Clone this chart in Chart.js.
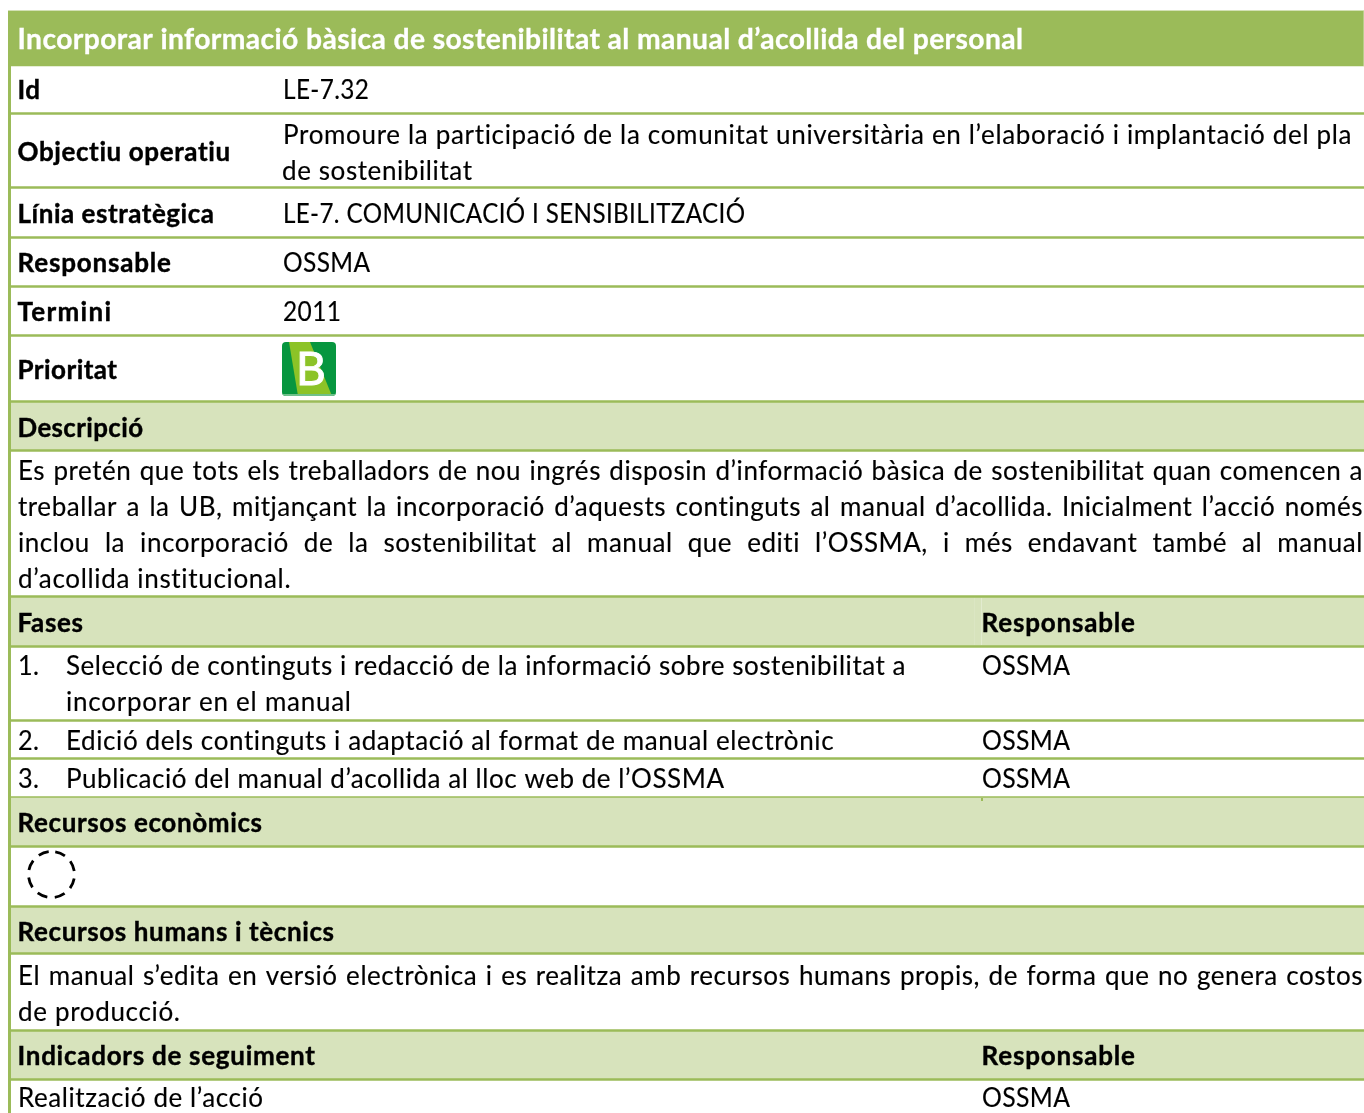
<!DOCTYPE html>
<html>
<head>
<meta charset="utf-8">
<style>
html, body { margin: 0; padding: 0; background: #fff; }
canvas { display: block; }
</style>
<script src="https://cdn.jsdelivr.net/npm/chart.js@4"></script>
</head>
<body>
<canvas id="Fitxa" width="1364" height="1113"></canvas>
<script>
// Row bands of the sheet (top and bottom of each band)
const RowNames = ["Titol", "Id", "Objectiu", "Linia", "Responsable", "Termini", "Prioritat", "Descripcio", "Text", "Fases", "Fase1", "Fase2", "Fase3", "Recursos", "Cercle", "Humans", "TextHumans", "Indicadors", "Accio"]
const RowTops = [11, 66, 115, 189, 239, 288, 337, 403, 452, 598, 648, 722, 760, 798, 848, 908, 955, 1032, 1081]
const RowBottoms = [66, 112, 186, 236, 285, 334, 400, 449, 595, 645, 719, 757, 796, 845, 905, 952, 1029, 1078, 1113]
const RowKinds = ["title", "plain", "plain", "plain", "plain", "plain", "plain", "head", "plain", "head", "plain", "plain", "plain", "head", "plain", "head", "plain", "head", "plain"]

const TitleText = "Incorporar informació bàsica de sostenibilitat al manual d’acollida del personal"
const BoldTexts = ["Id", "Objectiu operatiu", "Línia estratègica", "Responsable", "Termini", "Prioritat", "Descripció", "Fases", "Responsable", "Recursos econòmics", "Recursos humans i tècnics", "Indicadors de seguiment", "Responsable"]
const BoldBaselines = [99, 161, 223, 272, 321, 379, 437, 632, 632, 832, 941, 1065, 1065]
const BoldColumns = [17.5, 17.5, 17.5, 17.5, 17.5, 17.5, 17.5, 17.5, 981.5, 17.5, 17.5, 17.5, 981.5]
const BoldEnds = [40, 231, 214, 171, 111, 117, 143, 83, 1135, 262, 334, 315, 1135]

const PlainTexts = ["LE-7.32", "Promoure la participació de la comunitat universitària en l’elaboració i implantació del pla", "de sostenibilitat", "LE-7. COMUNICACIÓ I SENSIBILITZACIÓ", "OSSMA", "2011", "d’acollida institucional.", "1.", "Selecció de continguts i redacció de la informació sobre sostenibilitat a", "incorporar en el manual", "OSSMA", "2.", "Edició dels continguts i adaptació al format de manual electrònic", "OSSMA", "3.", "Publicació del manual d’acollida al lloc web de l’OSSMA", "OSSMA", "de producció.", "Realització de l’acció", "OSSMA"]
const PlainBaselines = [99, 143.5, 179.5, 222.5, 272, 321, 588, 675, 675, 711, 675, 750, 750, 750, 788, 788, 788, 1021, 1107, 1107]
const PlainColumns = [283, 283, 282, 283, 283, 283, 18, 18, 66, 66, 982, 18, 66, 982, 18, 66, 982, 18, 18, 982]
const PlainEnds = [369, 1352, 472, 745, 370, 341, 291, 39, 906, 351, 1070, 39, 834, 1070, 39, 724, 1070, 180, 263, 1070]

// Lines stretched to the right margin
const JustifiedTexts = ["Es pretén que tots els treballadors de nou ingrés disposin d’informació bàsica de sostenibilitat quan comencen a", "treballar a la UB, mitjançant la incorporació d’aquests continguts al manual d’acollida. Inicialment l’acció només", "inclou la incorporació de la sostenibilitat al manual que editi l’OSSMA, i més endavant també al manual", "El manual s’edita en versió electrònica i es realitza amb recursos humans propis, de forma que no genera costos"]
const JustifiedBaselines = [480, 516, 552, 985]

// Faint cell seams left in the sheet: x, top, bottom
const SeamX = [974.5, 981.5, 1363.5, 982]
const SeamTops = [598, 598, 11, 798]
const SeamBottoms = [645, 645, 66, 801]
const SeamColors = ["#DBE6C3", "#E2EBCF", "#B9CF8A", "#9BBB59"]
const SeamWidths = [1, 1, 1, 2]

const KindColors = {title: "#9BBB59", plain: "#FFFFFF", head: "#D7E3BC"}
const RuleColor = "#9BBB59"
const FontName = "Lato, sans-serif"
const BodySize = 26
const JustifyLetter = 0.55
const MinLetter = 0.4

const TextPlugin = {
    id: "fitxaText",
    afterDatasetsDraw(chart){
        const ctx = chart.ctx
        const XScale = chart.scales.xPos
        const YScale = chart.scales.y

        // each line ends where it does in the sheet: spacing first, squeeze only the wide capitals
        const Fit = function(Text, X, End, Y, Font, Color, Weight){
            ctx.font = Font
            ctx.fillStyle = Color
            ctx.strokeStyle = Color
            ctx.lineWidth = Weight
            ctx.letterSpacing = "0px"
            ctx.wordSpacing = "0px"
            const Natural = ctx.measureText(Text).width
            const Gaps = Math.max(Text.length - 1, 1)
            let Letter = (End - X - Natural) / Gaps
            let Squeeze = 1
            if (Letter < MinLetter){
                Letter = MinLetter
                Squeeze = (End - X) / (Natural + Letter * Gaps)
            }
            ctx.letterSpacing = Letter + "px"
            ctx.save()
            ctx.translate(XScale.getPixelForValue(X), YScale.getPixelForValue(Y))
            ctx.scale(Squeeze, 1)
            ctx.fillText(Text, 0, 0)
            if (Weight > 0) ctx.strokeText(Text, 0, 0)
            ctx.restore()
        }

        ctx.save()
        ctx.textBaseline = "alphabetic"
        ctx.textAlign = "left"

        Fit(TitleText, 17.5, 1023, 49, "bold 29px " + FontName, "#FFFFFF", 0.3)
        BoldTexts.forEach(function(Text, i){
            Fit(Text, BoldColumns[i], BoldEnds[i], BoldBaselines[i], "bold " + BodySize + "px " + FontName, "#000000", 0.4)
        })
        PlainTexts.forEach(function(Text, i){
            Fit(Text, PlainColumns[i], PlainEnds[i], PlainBaselines[i], BodySize + "px " + FontName, "#000000", 0.15)
        })
        JustifiedTexts.forEach(function(Text, i){
            ctx.font = BodySize + "px " + FontName
            ctx.fillStyle = "#000000"
            ctx.strokeStyle = "#000000"
            ctx.lineWidth = 0.15
            ctx.letterSpacing = JustifyLetter + "px"
            ctx.wordSpacing = "0px"
            const Gaps = Text.split(" ").length - 1
            ctx.wordSpacing = ((1363 - 18 - ctx.measureText(Text).width) / Gaps) + "px"
            ctx.fillText(Text, XScale.getPixelForValue(18), YScale.getPixelForValue(JustifiedBaselines[i]))
            ctx.strokeText(Text, XScale.getPixelForValue(18), YScale.getPixelForValue(JustifiedBaselines[i]))
        })

        // Prioritat badge
        const BX = XScale.getPixelForValue(282), BY = YScale.getPixelForValue(342)
        ctx.beginPath()
        ctx.roundRect(BX, BY, 54, 54, 4)
        ctx.fillStyle = "#07963F"
        ctx.fill()
        ctx.save()
        ctx.clip()
        ctx.beginPath()
        ctx.moveTo(BX + 7, BY)
        ctx.lineTo(BX + 28, BY)
        ctx.lineTo(BX + 50, BY + 54)
        ctx.lineTo(BX + 16, BY + 54)
        ctx.closePath()
        ctx.fillStyle = "#8CC327"
        ctx.fill()
        ctx.fillStyle = "#6FC08A"
        ctx.fillRect(BX, BY + 52, 54, 2)
        ctx.restore()
        ctx.letterSpacing = "0px"
        ctx.wordSpacing = "0px"
        ctx.font = "46px " + FontName
        ctx.fillStyle = "#FFFFFF"
        ctx.strokeStyle = "#FFFFFF"
        ctx.lineWidth = 1
        ctx.fillText("B", BX + 14, BY + 43)
        ctx.strokeText("B", BX + 14, BY + 43)

        // Dashed circle for Recursos economics, eight dashes with a gap at the top
        const Radius = 23
        const DashOn = 10.5
        const DashOff = 2 * Math.PI * Radius / 8 - DashOn
        const Start = -Math.PI / 2 + (DashOff / 2) / Radius
        ctx.beginPath()
        ctx.arc(XScale.getPixelForValue(51.5), YScale.getPixelForValue(874.5), Radius, Start, Start + Math.PI * 2)
        ctx.setLineDash([DashOn, DashOff])
        ctx.lineWidth = 2.8
        ctx.strokeStyle = "#000000"
        ctx.stroke()
        ctx.restore()
    }
}

const Bands = RowNames.map(function(Name, i){
    return {
        type: "bar",
        label: Name,
        data: [[RowTops[i], RowBottoms[i]]],
        backgroundColor: KindColors[RowKinds[i]],
        barPercentage: 1,
        categoryPercentage: 1,
        grouped: false,
        order: 2
    }
})

// Rules sit behind the rows as one green block
Bands.push({
    type: "bar",
    label: "Regles",
    data: [[11, 1113]],
    backgroundColor: RuleColor,
    barPercentage: 1,
    categoryPercentage: 1,
    grouped: false,
    order: 3
})

Bands.push({
    type: "line",
    label: "Vora",
    xAxisID: "xPos",
    data: [{x: 9.5, y: 11}, {x: 9.5, y: 1113}],
    borderColor: RuleColor,
    borderWidth: 3,
    pointRadius: 0,
    order: 1
})

SeamX.forEach(function(X, i){
    Bands.push({
        type: "line",
        label: "Junta " + i,
        xAxisID: "xPos",
        data: [{x: X, y: SeamTops[i]}, {x: X, y: SeamBottoms[i]}],
        borderColor: SeamColors[i],
        borderWidth: SeamWidths[i],
        pointRadius: 0,
        order: 1
    })
})

new Chart(document.getElementById("Fitxa"), {
    data: {labels: ["Fitxa"], datasets: Bands},
    plugins: [TextPlugin],
    options: {
        responsive: false,
        animation: false,
        layout: {padding: {left: 8}},
        plugins: {legend: {display: false}, tooltip: {enabled: false}},
        scales: {
            x: {display: false, offset: true, grid: {offset: true}},
            xPos: {type: "linear", display: false, min: 8, max: 1364},
            y: {display: false, reverse: true, min: 0, max: 1113}
        }
    }
})
</script>
</body>
</html>
